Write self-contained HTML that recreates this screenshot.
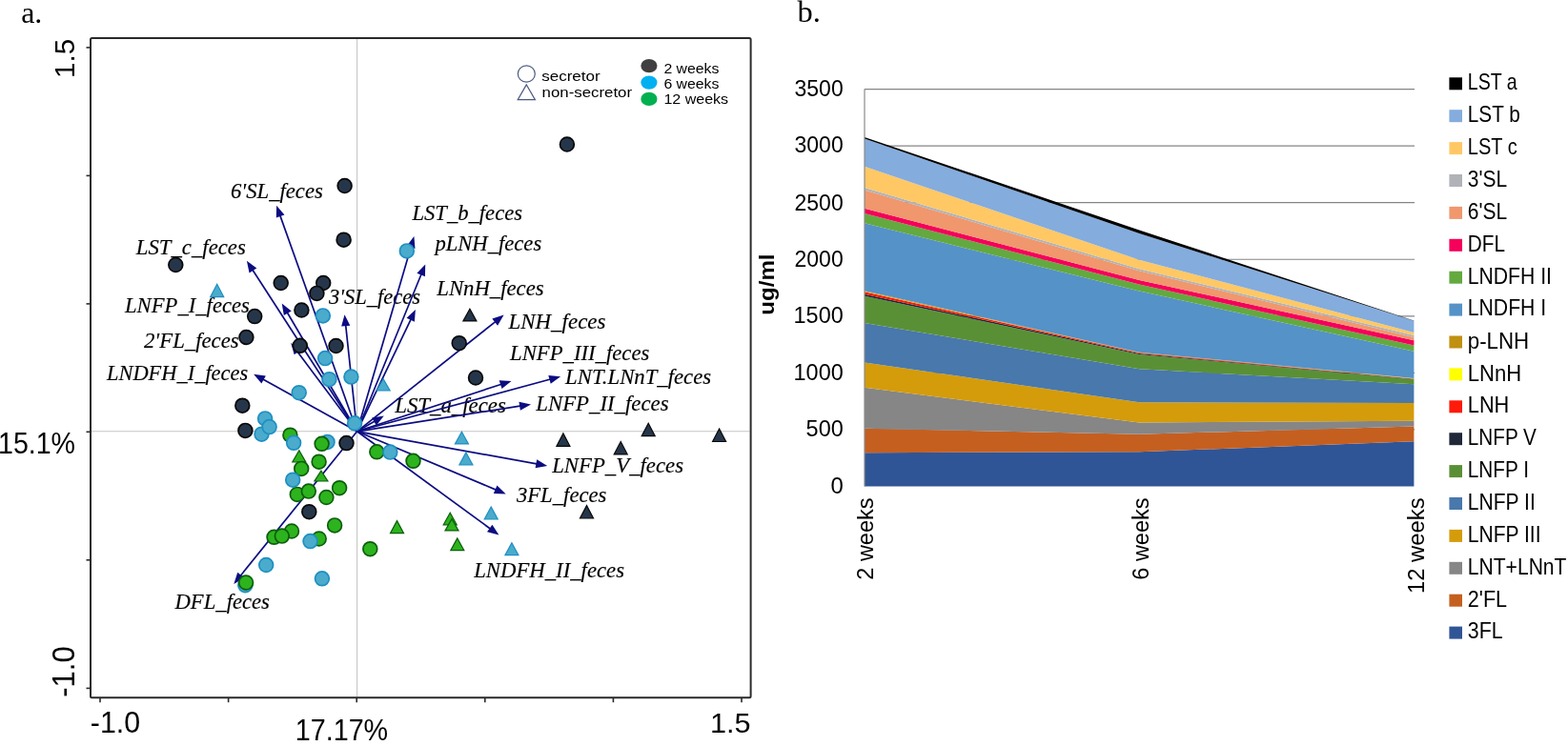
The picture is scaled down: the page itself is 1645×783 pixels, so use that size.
<!DOCTYPE html>
<html><head><meta charset="utf-8"><title>Figure</title>
<style>html,body{margin:0;padding:0;background:#fff;overflow:hidden}svg{display:block}</style>
</head><body>
<svg width="1645" height="783" viewBox="0 0 1645 783">
<rect x="0" y="0" width="1645" height="783" fill="#fff"/>
<text x="22.2" y="23.8" font-family="Liberation Serif, serif" font-size="31.96" fill="#000">a.</text>
<text x="836.4" y="23" font-family="Liberation Serif, serif" font-size="32.48" fill="#000">b.</text>
<g stroke="#c6c6c6" stroke-width="1.1" fill="none">
<line x1="374.6" y1="41" x2="374.6" y2="731.2"/>
<line x1="96" y1="452.8" x2="786.6" y2="452.8"/>
</g>
<text x="242" y="208.1" font-family="Liberation Serif, serif" font-size="23.3" font-style="italic" fill="#000" stroke="#000" stroke-width="0.15" textLength="96.83" lengthAdjust="spacingAndGlyphs">6&#39;SL_feces</text>
<text x="142.8" y="267.1" font-family="Liberation Serif, serif" font-size="23.3" font-style="italic" fill="#000" stroke="#000" stroke-width="0.15" textLength="115.03" lengthAdjust="spacingAndGlyphs">LST_c_feces</text>
<text x="131" y="328" font-family="Liberation Serif, serif" font-size="23.3" font-style="italic" fill="#000" stroke="#000" stroke-width="0.15" textLength="130.91" lengthAdjust="spacingAndGlyphs">LNFP_I_feces</text>
<text x="151" y="364.9" font-family="Liberation Serif, serif" font-size="23.3" font-style="italic" fill="#000" stroke="#000" stroke-width="0.15" textLength="99.61" lengthAdjust="spacingAndGlyphs">2&#39;FL_feces</text>
<text x="112" y="398.5" font-family="Liberation Serif, serif" font-size="23.3" font-style="italic" fill="#000" stroke="#000" stroke-width="0.15" textLength="148.21" lengthAdjust="spacingAndGlyphs">LNDFH_I_feces</text>
<text x="345" y="319.2" font-family="Liberation Serif, serif" font-size="23.3" font-style="italic" fill="#000" stroke="#000" stroke-width="0.15" textLength="96.12" lengthAdjust="spacingAndGlyphs">3&#39;SL_feces</text>
<text x="432.5" y="231.4" font-family="Liberation Serif, serif" font-size="23.3" font-style="italic" fill="#000" stroke="#000" stroke-width="0.15" textLength="115.52" lengthAdjust="spacingAndGlyphs">LST_b_feces</text>
<text x="456.4" y="263" font-family="Liberation Serif, serif" font-size="23.3" font-style="italic" fill="#000" stroke="#000" stroke-width="0.15" textLength="111.82" lengthAdjust="spacingAndGlyphs">pLNH_feces</text>
<text x="458.3" y="310" font-family="Liberation Serif, serif" font-size="23.3" font-style="italic" fill="#000" stroke="#000" stroke-width="0.15" textLength="112.32" lengthAdjust="spacingAndGlyphs">LNnH_feces</text>
<text x="533.5" y="344.5" font-family="Liberation Serif, serif" font-size="23.3" font-style="italic" fill="#000" stroke="#000" stroke-width="0.15" textLength="101.94" lengthAdjust="spacingAndGlyphs">LNH_feces</text>
<text x="535.1" y="377.5" font-family="Liberation Serif, serif" font-size="23.3" font-style="italic" fill="#000" stroke="#000" stroke-width="0.15" textLength="146.21" lengthAdjust="spacingAndGlyphs">LNFP_III_feces</text>
<text x="593.1" y="402.8" font-family="Liberation Serif, serif" font-size="23.3" font-style="italic" fill="#000" stroke="#000" stroke-width="0.15" textLength="153.01" lengthAdjust="spacingAndGlyphs">LNT.LNnT_feces</text>
<text x="414.2" y="432.6" font-family="Liberation Serif, serif" font-size="23.3" font-style="italic" fill="#000" stroke="#000" stroke-width="0.15" textLength="116.62" lengthAdjust="spacingAndGlyphs">LST_a_feces</text>
<text x="562.3" y="430.7" font-family="Liberation Serif, serif" font-size="23.3" font-style="italic" fill="#000" stroke="#000" stroke-width="0.15" textLength="139.22" lengthAdjust="spacingAndGlyphs">LNFP_II_feces</text>
<text x="579.2" y="496.4" font-family="Liberation Serif, serif" font-size="23.3" font-style="italic" fill="#000" stroke="#000" stroke-width="0.15" textLength="137.82" lengthAdjust="spacingAndGlyphs">LNFP_V_feces</text>
<text x="541.9" y="526.5" font-family="Liberation Serif, serif" font-size="23.3" font-style="italic" fill="#000" stroke="#000" stroke-width="0.15" textLength="94.54" lengthAdjust="spacingAndGlyphs">3FL_feces</text>
<text x="497.2" y="606.4" font-family="Liberation Serif, serif" font-size="23.3" font-style="italic" fill="#000" stroke="#000" stroke-width="0.15" textLength="157.82" lengthAdjust="spacingAndGlyphs">LNDFH_II_feces</text>
<text x="183.5" y="639.2" font-family="Liberation Serif, serif" font-size="23.3" font-style="italic" fill="#000" stroke="#000" stroke-width="0.15" textLength="99.42" lengthAdjust="spacingAndGlyphs">DFL_feces</text>
<g stroke="#0c0c82" stroke-width="1.7" fill="none">
<line x1="374.6" y1="452.8" x2="293.46" y2="225.12"/>
<line x1="374.6" y1="452.8" x2="264.33" y2="282.2"/>
<line x1="374.6" y1="452.8" x2="300.76" y2="327.02"/>
<line x1="374.6" y1="452.8" x2="311.19" y2="368.01"/>
<line x1="374.6" y1="452.8" x2="274.85" y2="397.55"/>
<line x1="374.6" y1="452.8" x2="362.56" y2="340.14"/>
<line x1="374.6" y1="452.8" x2="431.6" y2="257.7"/>
<line x1="374.6" y1="452.8" x2="442.42" y2="286.76"/>
<line x1="374.6" y1="452.8" x2="431.58" y2="334.02"/>
<line x1="374.6" y1="452.8" x2="520.77" y2="336.82"/>
<line x1="374.6" y1="452.8" x2="526.99" y2="403.01"/>
<line x1="374.6" y1="452.8" x2="578.45" y2="397.8"/>
<line x1="374.6" y1="452.8" x2="394.16" y2="441.43"/>
<line x1="374.6" y1="452.8" x2="547.12" y2="425.94"/>
<line x1="374.6" y1="452.8" x2="564.36" y2="487.12"/>
<line x1="374.6" y1="452.8" x2="521.48" y2="514.62"/>
<line x1="374.6" y1="452.8" x2="515.33" y2="555.7"/>
<line x1="374.6" y1="452.8" x2="251.58" y2="605.22"/>
</g>
<g fill="#0c0c82">
<polygon points="290.1,215.7 298.46,225.46 289.8,228.55"/>
<polygon points="258.9,273.8 269.28,281.38 261.55,286.38"/>
<polygon points="295.7,318.4 305.74,326.42 297.81,331.08"/>
<polygon points="305.2,360 316.07,366.86 308.7,372.36"/>
<polygon points="266.1,392.7 278.83,394.49 274.37,402.54"/>
<polygon points="361.5,330.2 367.35,341.64 358.2,342.62"/>
<polygon points="434.4,248.1 435.45,260.91 426.62,258.33"/>
<polygon points="446.2,277.5 445.92,290.35 437.4,286.87"/>
<polygon points="435.9,325 434.86,337.81 426.56,333.83"/>
<polygon points="528.6,330.6 522.06,341.66 516.34,334.46"/>
<polygon points="536.5,399.9 526.52,408 523.66,399.25"/>
<polygon points="588.1,395.2 577.71,402.77 575.32,393.88"/>
<polygon points="402.8,436.4 394.74,446.41 390.11,438.46"/>
<polygon points="557,424.4 545.85,430.79 544.44,421.7"/>
<polygon points="574.2,488.9 561.57,491.29 563.21,482.24"/>
<polygon points="530.7,518.5 517.86,518.08 521.42,509.61"/>
<polygon points="523.4,561.6 511,558.23 516.43,550.8"/>
<polygon points="245.3,613 249.26,600.77 256.42,606.55"/>
</g>
<circle cx="594.9" cy="151.5" r="7.4" fill="#26364a" stroke="#080808" stroke-width="1.7"/>
<circle cx="361.6" cy="195" r="7.4" fill="#26364a" stroke="#080808" stroke-width="1.7"/>
<circle cx="360.6" cy="251.7" r="7.4" fill="#26364a" stroke="#080808" stroke-width="1.7"/>
<circle cx="184.3" cy="278" r="7.4" fill="#26364a" stroke="#080808" stroke-width="1.7"/>
<circle cx="294.7" cy="297" r="7.4" fill="#26364a" stroke="#080808" stroke-width="1.7"/>
<circle cx="339.2" cy="297" r="7.4" fill="#26364a" stroke="#080808" stroke-width="1.7"/>
<circle cx="332.4" cy="307.9" r="7.4" fill="#26364a" stroke="#080808" stroke-width="1.7"/>
<circle cx="316.4" cy="325.5" r="7.4" fill="#26364a" stroke="#080808" stroke-width="1.7"/>
<circle cx="267.2" cy="332.1" r="7.4" fill="#26364a" stroke="#080808" stroke-width="1.7"/>
<circle cx="258.4" cy="354" r="7.4" fill="#26364a" stroke="#080808" stroke-width="1.7"/>
<circle cx="314.8" cy="362.8" r="7.4" fill="#26364a" stroke="#080808" stroke-width="1.7"/>
<circle cx="352.5" cy="363" r="7.4" fill="#26364a" stroke="#080808" stroke-width="1.7"/>
<circle cx="481.7" cy="360.2" r="7.4" fill="#26364a" stroke="#080808" stroke-width="1.7"/>
<circle cx="499" cy="396.5" r="7.4" fill="#26364a" stroke="#080808" stroke-width="1.7"/>
<circle cx="254.3" cy="425.7" r="7.4" fill="#26364a" stroke="#080808" stroke-width="1.7"/>
<circle cx="257.4" cy="451.9" r="7.4" fill="#26364a" stroke="#080808" stroke-width="1.7"/>
<circle cx="363.5" cy="465.1" r="7.4" fill="#26364a" stroke="#080808" stroke-width="1.7"/>
<circle cx="324.3" cy="537.2" r="7.4" fill="#26364a" stroke="#080808" stroke-width="1.7"/>
<polygon points="492.9,324.3 485.9,336.9 499.9,336.9" fill="#26364a" stroke="#080808" stroke-width="1.2"/>
<polygon points="590.9,454.9 583.9,468.3 597.9,468.3" fill="#26364a" stroke="#080808" stroke-width="1.2"/>
<polygon points="651.2,463.5 644.2,476.9 658.2,476.9" fill="#26364a" stroke="#080808" stroke-width="1.2"/>
<polygon points="680.2,444.2 673.2,457.6 687.2,457.6" fill="#26364a" stroke="#080808" stroke-width="1.2"/>
<polygon points="754.6,450 747.6,463.5 761.6,463.5" fill="#26364a" stroke="#080808" stroke-width="1.2"/>
<polygon points="615.5,530.6 608.5,543.8 622.5,543.8" fill="#26364a" stroke="#080808" stroke-width="1.2"/>
<circle cx="343.5" cy="463.9" r="7.4" fill="#4aabcc" stroke="#1e8fc2" stroke-width="1.7"/>
<circle cx="257.3" cy="614.2" r="7.4" fill="#4aabcc" stroke="#1e8fc2" stroke-width="1.7"/>
<polygon points="313.8,472.8 306.8,485 320.8,485" fill="#2db31e" stroke="#0b5e0b" stroke-width="1.2"/>
<polygon points="336.9,494.2 329.9,505 343.9,505" fill="#2db31e" stroke="#0b5e0b" stroke-width="1.2"/>
<polygon points="416.5,546.6 409.5,559.6 423.5,559.6" fill="#2db31e" stroke="#0b5e0b" stroke-width="1.2"/>
<polygon points="472.2,538.3 465.2,550.8 479.2,550.8" fill="#2db31e" stroke="#0b5e0b" stroke-width="1.2"/>
<polygon points="474,544.6 467,556.9 481,556.9" fill="#2db31e" stroke="#0b5e0b" stroke-width="1.2"/>
<polygon points="479.8,564.9 472.8,577.6 486.8,577.6" fill="#2db31e" stroke="#0b5e0b" stroke-width="1.2"/>
<circle cx="304.4" cy="456.7" r="7.4" fill="#2db31e" stroke="#0b5e0b" stroke-width="1.7"/>
<circle cx="337.6" cy="465.8" r="7.4" fill="#2db31e" stroke="#0b5e0b" stroke-width="1.7"/>
<circle cx="395.3" cy="474.3" r="7.4" fill="#2db31e" stroke="#0b5e0b" stroke-width="1.7"/>
<circle cx="433.5" cy="483.8" r="7.4" fill="#2db31e" stroke="#0b5e0b" stroke-width="1.7"/>
<circle cx="334.6" cy="484.7" r="7.4" fill="#2db31e" stroke="#0b5e0b" stroke-width="1.7"/>
<circle cx="316.2" cy="491.9" r="7.4" fill="#2db31e" stroke="#0b5e0b" stroke-width="1.7"/>
<circle cx="311.8" cy="518.9" r="7.4" fill="#2db31e" stroke="#0b5e0b" stroke-width="1.7"/>
<circle cx="323.8" cy="515.6" r="7.4" fill="#2db31e" stroke="#0b5e0b" stroke-width="1.7"/>
<circle cx="356.1" cy="512.2" r="7.4" fill="#2db31e" stroke="#0b5e0b" stroke-width="1.7"/>
<circle cx="342.4" cy="522" r="7.4" fill="#2db31e" stroke="#0b5e0b" stroke-width="1.7"/>
<circle cx="351.1" cy="551.4" r="7.4" fill="#2db31e" stroke="#0b5e0b" stroke-width="1.7"/>
<circle cx="306" cy="557.5" r="7.4" fill="#2db31e" stroke="#0b5e0b" stroke-width="1.7"/>
<circle cx="287.5" cy="563.8" r="7.4" fill="#2db31e" stroke="#0b5e0b" stroke-width="1.7"/>
<circle cx="295.8" cy="562.6" r="7.4" fill="#2db31e" stroke="#0b5e0b" stroke-width="1.7"/>
<circle cx="334.7" cy="565.5" r="7.4" fill="#2db31e" stroke="#0b5e0b" stroke-width="1.7"/>
<circle cx="388.3" cy="576.2" r="7.4" fill="#2db31e" stroke="#0b5e0b" stroke-width="1.7"/>
<circle cx="258.1" cy="611.5" r="7.4" fill="#2db31e" stroke="#0b5e0b" stroke-width="1.7"/>
<polygon points="227.7,298.2 220.7,311.7 234.7,311.7" fill="#4aabcc" stroke="#1e8fc2" stroke-width="1.2"/>
<polygon points="402.1,397.8 395.1,410 409.1,410" fill="#4aabcc" stroke="#1e8fc2" stroke-width="1.2"/>
<polygon points="484.4,453.2 477.4,465.9 491.4,465.9" fill="#4aabcc" stroke="#1e8fc2" stroke-width="1.2"/>
<polygon points="488.9,474.9 481.9,487.8 495.9,487.8" fill="#4aabcc" stroke="#1e8fc2" stroke-width="1.2"/>
<polygon points="515.2,532 508.2,545 522.2,545" fill="#4aabcc" stroke="#1e8fc2" stroke-width="1.2"/>
<polygon points="536.9,569.7 529.9,582.7 543.9,582.7" fill="#4aabcc" stroke="#1e8fc2" stroke-width="1.2"/>
<circle cx="426.8" cy="263.4" r="7.4" fill="#4aabcc" stroke="#1e8fc2" stroke-width="1.7"/>
<circle cx="338.8" cy="331.4" r="7.4" fill="#4aabcc" stroke="#1e8fc2" stroke-width="1.7"/>
<circle cx="341.1" cy="376.1" r="7.4" fill="#4aabcc" stroke="#1e8fc2" stroke-width="1.7"/>
<circle cx="345.4" cy="398.2" r="7.4" fill="#4aabcc" stroke="#1e8fc2" stroke-width="1.7"/>
<circle cx="368.4" cy="395.6" r="7.4" fill="#4aabcc" stroke="#1e8fc2" stroke-width="1.7"/>
<circle cx="313.7" cy="412.2" r="7.4" fill="#4aabcc" stroke="#1e8fc2" stroke-width="1.7"/>
<circle cx="278.1" cy="439.4" r="7.4" fill="#4aabcc" stroke="#1e8fc2" stroke-width="1.7"/>
<circle cx="274.5" cy="455.7" r="7.4" fill="#4aabcc" stroke="#1e8fc2" stroke-width="1.7"/>
<circle cx="282.6" cy="448.1" r="7.4" fill="#4aabcc" stroke="#1e8fc2" stroke-width="1.7"/>
<circle cx="308.1" cy="464.8" r="7.4" fill="#4aabcc" stroke="#1e8fc2" stroke-width="1.7"/>
<circle cx="409.3" cy="474.6" r="7.4" fill="#4aabcc" stroke="#1e8fc2" stroke-width="1.7"/>
<circle cx="307.2" cy="503.7" r="7.4" fill="#4aabcc" stroke="#1e8fc2" stroke-width="1.7"/>
<circle cx="325.5" cy="568.1" r="7.4" fill="#4aabcc" stroke="#1e8fc2" stroke-width="1.7"/>
<circle cx="279.2" cy="593" r="7.4" fill="#4aabcc" stroke="#1e8fc2" stroke-width="1.7"/>
<circle cx="337.9" cy="607.3" r="7.4" fill="#4aabcc" stroke="#1e8fc2" stroke-width="1.7"/>
<circle cx="372.1" cy="444.3" r="7.4" fill="#4aabcc" stroke="#1e8fc2" stroke-width="1.7"/>
<rect x="95" y="40" width="692.6" height="692.2" fill="none" stroke="#2a2a2a" stroke-width="2" rx="1.5"/>
<g stroke="#2a2a2a" stroke-width="1.6">
<line x1="105" y1="732.2" x2="105" y2="737.2"/>
<line x1="239.6" y1="732.2" x2="239.6" y2="737.2"/>
<line x1="374.2" y1="732.2" x2="374.2" y2="737.2"/>
<line x1="508.8" y1="732.2" x2="508.8" y2="737.2"/>
<line x1="643.4" y1="732.2" x2="643.4" y2="737.2"/>
<line x1="778" y1="732.2" x2="778" y2="737.2"/>
<line x1="90.5" y1="49.9" x2="95" y2="49.9"/>
<line x1="90.5" y1="184.4" x2="95" y2="184.4"/>
<line x1="90.5" y1="318.9" x2="95" y2="318.9"/>
<line x1="90.5" y1="453.3" x2="95" y2="453.3"/>
<line x1="90.5" y1="587.8" x2="95" y2="587.8"/>
<line x1="90.5" y1="722.4" x2="95" y2="722.4"/>
</g>
<text x="94.8" y="769.4" font-family="Liberation Sans, sans-serif" font-size="30.97" fill="#000" textLength="52.3" lengthAdjust="spacingAndGlyphs">-1.0</text>
<text x="309.8" y="776.6" font-family="Liberation Sans, sans-serif" font-size="30.97" fill="#000" textLength="97.31" lengthAdjust="spacingAndGlyphs">17.17%</text>
<text x="744.9" y="768.6" font-family="Liberation Sans, sans-serif" font-size="29.19" fill="#000" textLength="42.53" lengthAdjust="spacingAndGlyphs">1.5</text>
<text x="-2" y="475.8" font-family="Liberation Sans, sans-serif" font-size="31.64" fill="#000" textLength="80.96" lengthAdjust="spacingAndGlyphs">15.1%</text>
<text transform="translate(78.4,82) rotate(-90)" x="0" y="0" font-family="Liberation Sans, sans-serif" font-size="30.25" fill="#000" textLength="41.26" lengthAdjust="spacingAndGlyphs">1.5</text>
<text transform="translate(78,731.8) rotate(-90)" x="0" y="0" font-family="Liberation Sans, sans-serif" font-size="33.1" fill="#000" textLength="53.46" lengthAdjust="spacingAndGlyphs">-1.0</text>
<ellipse cx="552.3" cy="77.5" rx="9" ry="8.6" fill="none" stroke="#4a5a80" stroke-width="1.2"/>
<polygon points="552.3,88.9 543.2,104.6 561.4,104.6" fill="none" stroke="#4a5a80" stroke-width="1.2"/>
<ellipse cx="680.9" cy="69.1" rx="8.6" ry="7.2" fill="#404040"/>
<ellipse cx="680.9" cy="86.6" rx="8.6" ry="7.2" fill="#00b0f0"/>
<ellipse cx="680.9" cy="103.9" rx="8.6" ry="7.2" fill="#00b050"/>
<text x="568.2" y="85.3" font-family="Liberation Sans, sans-serif" font-size="15.5" fill="#000" textLength="61.43" lengthAdjust="spacingAndGlyphs">secretor</text>
<text x="568.6" y="101.5" font-family="Liberation Sans, sans-serif" font-size="15.5" fill="#000" textLength="94.41" lengthAdjust="spacingAndGlyphs">non-secretor</text>
<text x="696.4" y="77.3" font-family="Liberation Sans, sans-serif" font-size="15.5" fill="#000" textLength="58.04" lengthAdjust="spacingAndGlyphs">2 weeks</text>
<text x="696.4" y="93" font-family="Liberation Sans, sans-serif" font-size="15.5" fill="#000" textLength="58.04" lengthAdjust="spacingAndGlyphs">6 weeks</text>
<text x="696.4" y="109.4" font-family="Liberation Sans, sans-serif" font-size="15.5" fill="#000" textLength="67.66" lengthAdjust="spacingAndGlyphs">12 weeks</text>
<g stroke="#858585" stroke-width="1.2">
<line x1="907" y1="450.9" x2="1484" y2="450.9"/>
<line x1="907" y1="391.35" x2="1484" y2="391.35"/>
<line x1="907" y1="331.8" x2="1484" y2="331.8"/>
<line x1="907" y1="272.25" x2="1484" y2="272.25"/>
<line x1="907" y1="212.7" x2="1484" y2="212.7"/>
<line x1="907" y1="153.15" x2="1484" y2="153.15"/>
<line x1="907" y1="93.6" x2="1484" y2="93.6"/>
</g>
<polygon points="907,475.2 1195.2,474.3 1483.4,463.2 1483.4,510.45 1195.2,510.45 907,510.45" fill="#2f5597"/>
<polygon points="907,449.8 1195.2,455.8 1483.4,447.6 1483.4,463.2 1195.2,474.3 907,475.2" fill="#c55f20"/>
<polygon points="907,406.8 1195.2,443.6 1483.4,441.7 1483.4,447.6 1195.2,455.8 907,449.8" fill="#868686"/>
<polygon points="907,380.6 1195.2,422.2 1483.4,422.9 1483.4,441.7 1195.2,443.6 907,406.8" fill="#d49c0b"/>
<polygon points="907,339 1195.2,387.3 1483.4,403.3 1483.4,422.9 1195.2,422.2 907,380.6" fill="#4878ac"/>
<polygon points="907,310.8 1195.2,372 1483.4,398.2 1483.4,403.3 1195.2,387.3 907,339" fill="#5a9035"/>
<polygon points="907,308.8 1195.2,371.1 1483.4,397.8 1483.4,398.2 1195.2,372 907,310.8" fill="#1e2838"/>
<polygon points="907,306.3 1195.2,370.3 1483.4,397.4 1483.4,397.8 1195.2,371.1 907,308.8" fill="#ff1a0a"/>
<polygon points="907,306.1 1195.2,370.2 1483.4,397.3 1483.4,397.4 1195.2,370.3 907,306.3" fill="#ffff00"/>
<polygon points="907,305.2 1195.2,369.8 1483.4,397 1483.4,397.3 1195.2,370.2 907,306.1" fill="#c09010"/>
<polygon points="907,234.2 1195.2,305.5 1483.4,368.7 1483.4,397 1195.2,369.8 907,305.2" fill="#5592c8"/>
<polygon points="907,223.9 1195.2,298.5 1483.4,362.6 1483.4,368.7 1195.2,305.5 907,234.2" fill="#63a93f"/>
<polygon points="907,218.8 1195.2,293.9 1483.4,357.3 1483.4,362.6 1195.2,298.5 907,223.9" fill="#f5005a"/>
<polygon points="907,199.5 1195.2,284.2 1483.4,354 1483.4,357.3 1195.2,293.9 907,218.8" fill="#f0976d"/>
<polygon points="907,196.9 1195.2,282.2 1483.4,352.1 1483.4,354 1195.2,284.2 907,199.5" fill="#b0b2b8"/>
<polygon points="907,174.8 1195.2,272.8 1483.4,349 1483.4,352.1 1195.2,282.2 907,196.9" fill="#ffc865"/>
<polygon points="907,145.6 1195.2,245 1483.4,336.8 1483.4,349 1195.2,272.8 907,174.8" fill="#84acdd"/>
<polygon points="907,143.9 1195.2,241.5 1483.4,336.6 1483.4,336.8 1195.2,245 907,145.6" fill="#000000"/>
<line x1="907" y1="93.6" x2="907" y2="510.45" stroke="#8a8a8a" stroke-width="1.2"/>
<text x="871.6" y="517.6" font-family="Liberation Sans, sans-serif" font-size="23.43" fill="#000" textLength="13.29" lengthAdjust="spacingAndGlyphs">0</text>
<text x="845.6" y="458.4" font-family="Liberation Sans, sans-serif" font-size="23.43" fill="#000" textLength="39.11" lengthAdjust="spacingAndGlyphs">500</text>
<text x="832.6" y="399.2" font-family="Liberation Sans, sans-serif" font-size="23.43" fill="#000" textLength="52.09" lengthAdjust="spacingAndGlyphs">1000</text>
<text x="832.6" y="339" font-family="Liberation Sans, sans-serif" font-size="23.43" fill="#000" textLength="52.09" lengthAdjust="spacingAndGlyphs">1500</text>
<text x="833.6" y="279.8" font-family="Liberation Sans, sans-serif" font-size="23.43" fill="#000" textLength="51.05" lengthAdjust="spacingAndGlyphs">2000</text>
<text x="833.6" y="220.6" font-family="Liberation Sans, sans-serif" font-size="23.43" fill="#000" textLength="51.05" lengthAdjust="spacingAndGlyphs">2500</text>
<text x="833.6" y="160.4" font-family="Liberation Sans, sans-serif" font-size="23.43" fill="#000" textLength="51.05" lengthAdjust="spacingAndGlyphs">3000</text>
<text x="833.6" y="101.2" font-family="Liberation Sans, sans-serif" font-size="23.43" fill="#000" textLength="51.05" lengthAdjust="spacingAndGlyphs">3500</text>
<text transform="translate(812.2,330.7) rotate(-90)" x="0" y="0" font-family="Liberation Sans, sans-serif" font-size="22.86" font-weight="bold" fill="#000" textLength="64.18" lengthAdjust="spacingAndGlyphs">ug/ml</text>
<text transform="translate(916.4,608.7) rotate(-90)" x="0" y="0" font-family="Liberation Sans, sans-serif" font-size="24.24" fill="#000" textLength="86.13" lengthAdjust="spacingAndGlyphs">2 weeks</text>
<text transform="translate(1205.4,608.7) rotate(-90)" x="0" y="0" font-family="Liberation Sans, sans-serif" font-size="24.35" fill="#000" textLength="86.13" lengthAdjust="spacingAndGlyphs">6 weeks</text>
<text transform="translate(1493.8,623) rotate(-90)" x="0" y="0" font-family="Liberation Sans, sans-serif" font-size="23.28" fill="#000" textLength="100.65" lengthAdjust="spacingAndGlyphs">12 weeks</text>
<rect x="1520.4" y="81.3" width="13.6" height="13" fill="#000000"/>
<text x="1539.8" y="94.2" font-family="Liberation Sans, sans-serif" font-size="23.2" fill="#000" textLength="51.86" lengthAdjust="spacingAndGlyphs">LST a</text>
<rect x="1520.4" y="115.2" width="13.6" height="13" fill="#84acdd"/>
<text x="1539.8" y="127.8" font-family="Liberation Sans, sans-serif" font-size="23.2" fill="#000" textLength="54.92" lengthAdjust="spacingAndGlyphs">LST b</text>
<rect x="1520.4" y="149.1" width="13.6" height="13" fill="#ffc865"/>
<text x="1539.8" y="162.4" font-family="Liberation Sans, sans-serif" font-size="23.2" fill="#000" textLength="51.92" lengthAdjust="spacingAndGlyphs">LST c</text>
<rect x="1520.4" y="183" width="13.6" height="13" fill="#b0b2b8"/>
<text x="1539.8" y="196" font-family="Liberation Sans, sans-serif" font-size="23.2" fill="#000" textLength="41.27" lengthAdjust="spacingAndGlyphs">3&#39;SL</text>
<rect x="1520.4" y="216.9" width="13.6" height="13" fill="#f0976d"/>
<text x="1539.8" y="229.6" font-family="Liberation Sans, sans-serif" font-size="23.2" fill="#000" textLength="41.33" lengthAdjust="spacingAndGlyphs">6&#39;SL</text>
<rect x="1520.4" y="250.8" width="13.6" height="13" fill="#f5005a"/>
<text x="1539.8" y="264.2" font-family="Liberation Sans, sans-serif" font-size="23.2" fill="#000" textLength="39.19" lengthAdjust="spacingAndGlyphs">DFL</text>
<rect x="1520.4" y="284.7" width="13.6" height="13" fill="#63a93f"/>
<text x="1539.8" y="297.8" font-family="Liberation Sans, sans-serif" font-size="23.2" fill="#000" textLength="88.12" lengthAdjust="spacingAndGlyphs">LNDFH II</text>
<rect x="1520.4" y="318.6" width="13.6" height="13" fill="#5592c8"/>
<text x="1539.8" y="331.4" font-family="Liberation Sans, sans-serif" font-size="23.2" fill="#000" textLength="82.33" lengthAdjust="spacingAndGlyphs">LNDFH I</text>
<rect x="1520.4" y="352.5" width="13.6" height="13" fill="#c09010"/>
<text x="1539.8" y="365.5" font-family="Liberation Sans, sans-serif" font-size="23.2" fill="#000" textLength="64.37" lengthAdjust="spacingAndGlyphs">p-LNH</text>
<rect x="1520.4" y="386.4" width="13.6" height="13" fill="#ffff00"/>
<text x="1539.8" y="399.6" font-family="Liberation Sans, sans-serif" font-size="23.2" fill="#000" textLength="56.4" lengthAdjust="spacingAndGlyphs">LNnH</text>
<rect x="1520.4" y="420.3" width="13.6" height="13" fill="#ff1a0a"/>
<text x="1539.8" y="433.2" font-family="Liberation Sans, sans-serif" font-size="23.2" fill="#000" textLength="43.47" lengthAdjust="spacingAndGlyphs">LNH</text>
<rect x="1520.4" y="454.2" width="13.6" height="13" fill="#1e2838"/>
<text x="1539.8" y="466.8" font-family="Liberation Sans, sans-serif" font-size="23.2" fill="#000" textLength="72.06" lengthAdjust="spacingAndGlyphs">LNFP V</text>
<rect x="1520.4" y="488.1" width="13.6" height="13" fill="#5a9035"/>
<text x="1539.8" y="501.4" font-family="Liberation Sans, sans-serif" font-size="23.2" fill="#000" textLength="64.17" lengthAdjust="spacingAndGlyphs">LNFP I</text>
<rect x="1520.4" y="522" width="13.6" height="13" fill="#4878ac"/>
<text x="1539.8" y="535" font-family="Liberation Sans, sans-serif" font-size="23.2" fill="#000" textLength="70.98" lengthAdjust="spacingAndGlyphs">LNFP II</text>
<rect x="1520.4" y="555.9" width="13.6" height="13" fill="#d49c0b"/>
<text x="1539.8" y="568.6" font-family="Liberation Sans, sans-serif" font-size="23.2" fill="#000" textLength="76.76" lengthAdjust="spacingAndGlyphs">LNFP III</text>
<rect x="1520.4" y="589.8" width="13.6" height="13" fill="#868686"/>
<text x="1539.8" y="603.2" font-family="Liberation Sans, sans-serif" font-size="23.2" fill="#000" textLength="103.64" lengthAdjust="spacingAndGlyphs">LNT+LNnT</text>
<rect x="1520.4" y="623.7" width="13.6" height="13" fill="#c55f20"/>
<text x="1539.8" y="636.8" font-family="Liberation Sans, sans-serif" font-size="23.2" fill="#000" textLength="41.27" lengthAdjust="spacingAndGlyphs">2&#39;FL</text>
<rect x="1520.4" y="657.6" width="13.6" height="13" fill="#2f5597"/>
<text x="1539.8" y="670.4" font-family="Liberation Sans, sans-serif" font-size="23.2" fill="#000" textLength="36.75" lengthAdjust="spacingAndGlyphs">3FL</text>
</svg>
</body></html>
